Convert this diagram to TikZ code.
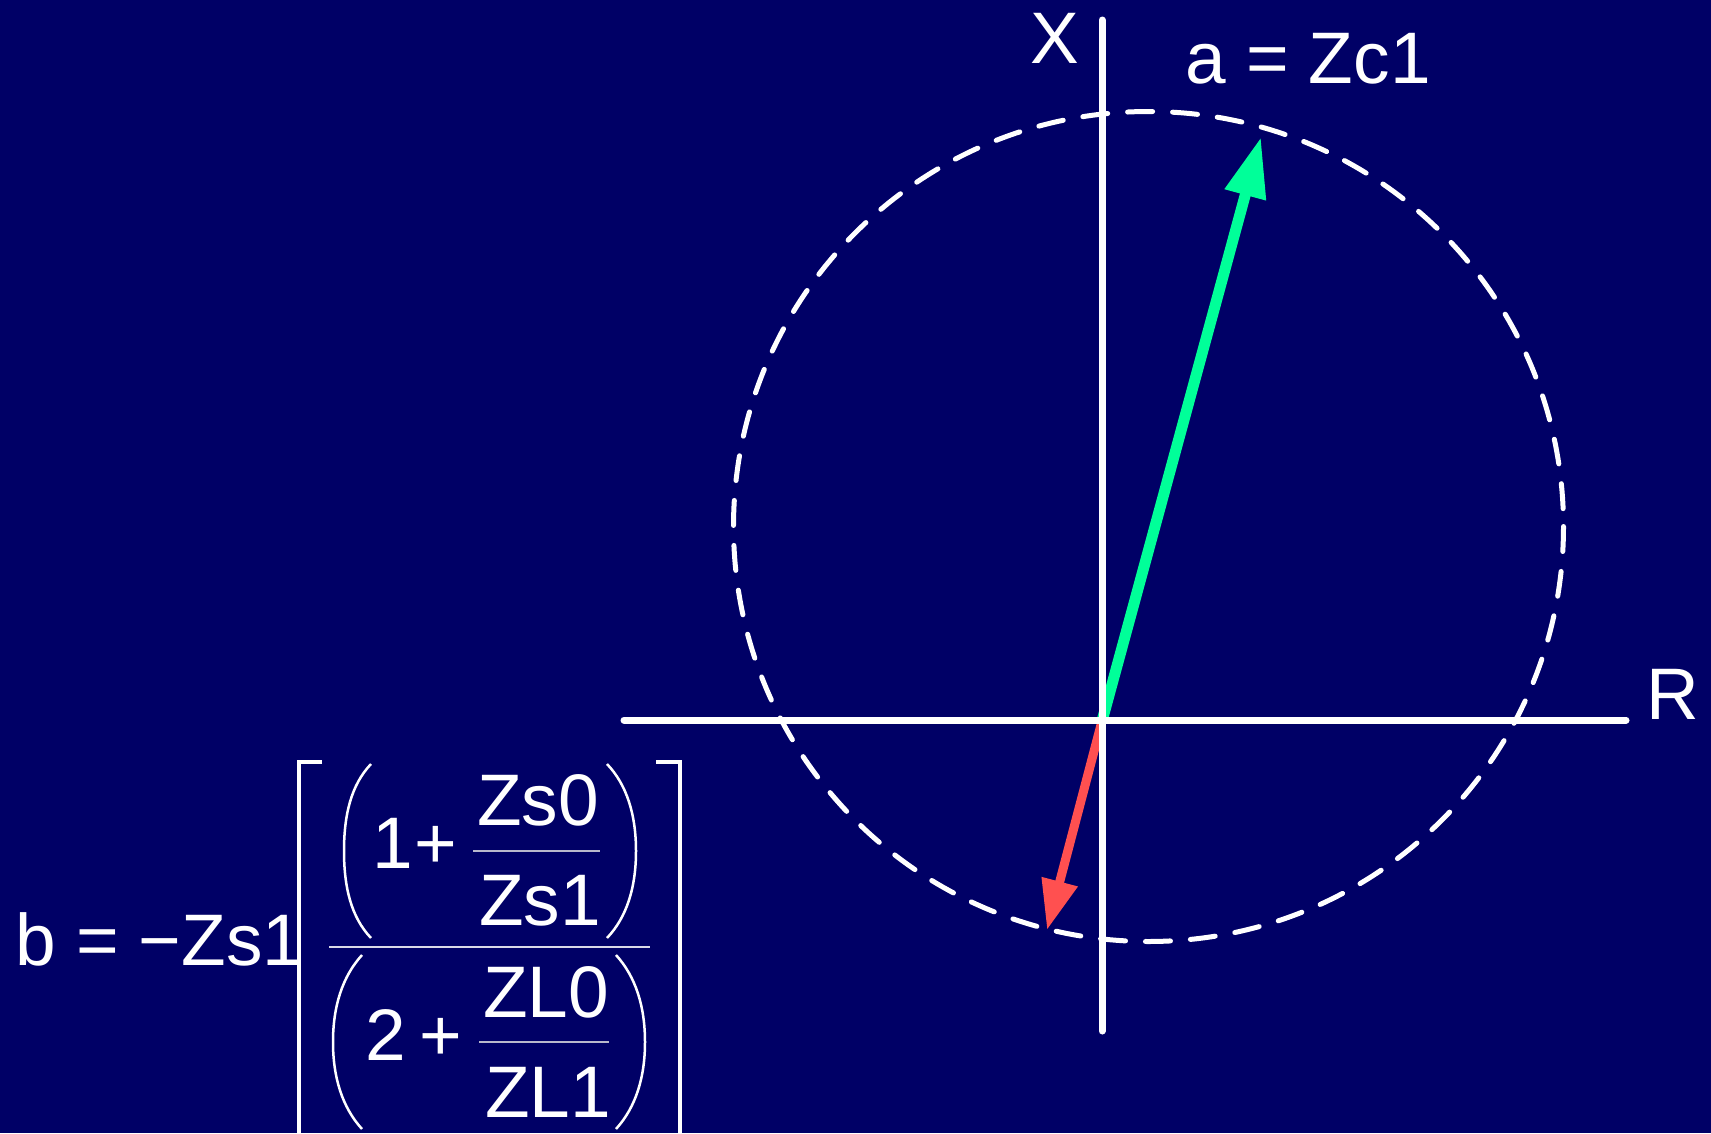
\documentclass[tikz,border=0pt]{standalone}
\usepackage{fontspec}
\setmainfont{Liberation Sans}
\usetikzlibrary{arrows.meta}
\definecolor{bgnavy}{HTML}{000066}
\definecolor{phasorgreen}{HTML}{00FF99}
\definecolor{phasorred}{HTML}{FF5050}
\definecolor{bargray}{HTML}{B8B8CC}
\newcommand{\labelsize}{\fontsize{73}{88}\selectfont}
\tikzset{
  axisline/.style={draw=white,line width=7pt,line cap=round},
  locus/.style={draw=white,line width=5pt,line cap=round,dash pattern=on 25pt off 20pt},
  vecgreen/.style={draw=phasorgreen,line width=11pt,-{Triangle[length=60pt,width=40pt]}},
  vecred/.style={draw=phasorred,line width=9pt,-{Triangle[length=50pt,width=35pt]}},
  lbl/.style={text=white,font=\labelsize,inner sep=0pt},
  delim/.style={draw=white,line width=2.5pt},
  brackline/.style={draw=white,line width=3.5pt},
  fracbar/.style={draw=bargray,line width=1.5pt},
  mainbar/.style={draw=white!85!bgnavy,line width=2pt}
}

\begin{document}
\begin{tikzpicture}[x=1pt,y=-1pt]
  \useasboundingbox (0,0) rectangle (1711,1133);
  \fill[bgnavy] (0,0) rectangle (1711,1133);
  \clip (0,0) rectangle (1711,1133);
  % circle locus
  \draw[locus] (1148.5,526.5) circle[radius=415];
  % phasors
  \coordinate (origin) at (1102,721);
  \coordinate (atip) at (1261,137);
  \coordinate (btip) at (1047,930);
  \draw[vecgreen] (origin) -- (atip);
  \draw[vecred] (origin) -- (btip);
  % axes
  \coordinate (xtop) at (1102,20);
  \coordinate (xbot) at (1102,1031);
  \coordinate (rleft) at (624,720);
  \coordinate (rright) at (1626,720);
  \draw[axisline] (xtop) -- (xbot);
  \draw[axisline] (rleft) -- (rright);
  \node[lbl,anchor=base] (xlab) at (1055,63) {X};
  \node[lbl,anchor=base west] (rlab) at (1646,719) {R};
  \node[lbl,anchor=base west] (alab) at (1185,83) {a = Zc1};
  % formula for b
  \node[lbl,anchor=base west] (blhs) at (15,965) {b = −Zs1};
  \node[lbl,anchor=base west] (numone) at (372,868) {1};
  \node[lbl,anchor=base] (numplus) at (436,868) {+};
  \node[lbl,anchor=base] (zszero) at (538,825) {Zs0};
  \node[lbl,anchor=base] (zsone) at (540,925) {Zs1};
  \node[lbl,anchor=base] (dentwo) at (386,1060) {2};
  \node[lbl,anchor=base] (denplus) at (441,1060) {+};
  \node[lbl,anchor=base] (zlzero) at (546,1017) {ZL0};
  \node[lbl,anchor=base] (zlone) at (548,1117) {ZL1};
  \draw[fracbar] (473,851) -- (600,851);
  \draw[fracbar] (479,1042) -- (609,1042);
  \draw[mainbar] (329,947) -- (650,947);
  \draw[delim] (371,764) .. controls (351,785) and (344,815) .. (344,851) .. controls (344,887) and (351,917) .. (371,938);
  \draw[delim] (607,764) .. controls (627,785) and (636,815) .. (636,851) .. controls (636,887) and (627,917) .. (607,938);
  \draw[delim] (362,955) .. controls (342,977) and (333,1007) .. (333,1042) .. controls (333,1077) and (342,1107) .. (362,1129);
  \draw[delim] (616,955) .. controls (636,977) and (645,1007) .. (645,1042) .. controls (645,1077) and (636,1107) .. (616,1129);
  \draw[brackline] (322,762) -- (299,762) -- (299,1140);
  \draw[brackline] (656,762) -- (680,762) -- (680,1140);
\end{tikzpicture}
\end{document}
